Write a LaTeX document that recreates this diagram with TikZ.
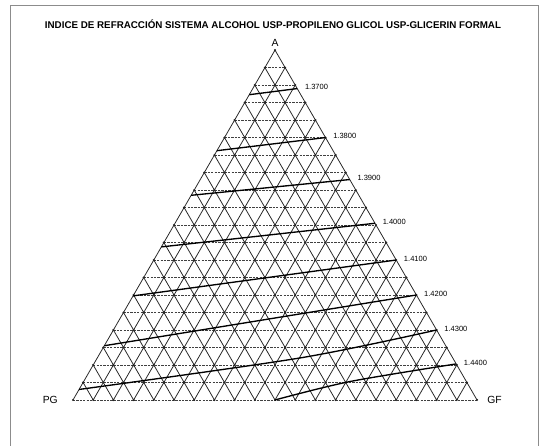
\documentclass[tikz,border=0pt]{standalone}
\usepackage{fontspec}
\setmainfont{Liberation Sans}
\usetikzlibrary{positioning}

\begin{document}
\begin{tikzpicture}[x=0.5cm, y=0.5cm,
    gridline/.style={line width=0.55pt, black!85},
    rowline/.style={line width=0.45pt, black!75, dash pattern=on 1.6pt off 0.8pt},
    isoline/.style={line width=0.95pt},
    isolabel/.style={anchor=west, inner sep=0pt, font=\fontsize{5.3}{6}\selectfont},
    corner/.style={inner sep=0pt, font=\fontsize{7.3}{8}\selectfont}]
  \useasboundingbox (-3.614,-2.277) rectangle (23.366,19.80);
  \draw[black!45, line width=0.5pt] (-3.12,-2.4) -- (-3.12,19.55) -- (23.02,19.55) -- (23.02,-2.4);
  \node[font=\bfseries\fontsize{6.9}{8}\selectfont] (title) at (9.9,18.61)
    {INDICE DE REFRACCIÓN SISTEMA ALCOHOL USP-PROPILENO GLICOL USP-GLICERIN FORMAL};

  \coordinate (pg) at (0,0);
  \coordinate (gf) at (20,0);
  \coordinate (a) at (10,17.32);
  \foreach \k in {1,...,19}{
    \draw[rowline] ({\k/2},{\k*0.866}) -- ({20-\k/2},{\k*0.866});
    \draw[gridline] (\k,0) -- ({(20+\k)/2},{(20-\k)*0.866});
    \draw[gridline] (\k,0) -- ({\k/2},{\k*0.866});
  }
  \draw[rowline] (pg) -- (gf);
  \draw[gridline] (gf) -- (a) -- (pg);
  \foreach \j in {0,...,20}{
    \pgfmathtruncatemacro\last{20-\j}
    \foreach \i in {0,...,\last}{
      \fill[black!85] ({\i+\j/2},{\j*0.866}) circle (0.85pt);
    }
  }

  \node[corner, above=2pt of a] (alabel) {A};
  \node[corner, left=0.37cm of pg] (pglabel) {PG};
  \node[corner, right=0.25cm of gf] (gflabel) {GF};

  \foreach \l/\r/\v [count=\n] in {17.45/17.8/1.3700, 14.25/15.0/1.3800, 11.7/12.6/1.3900,
      8.75/10.1/1.4000, 5.95/8.0/1.4100, 3.1/6.0/1.4200}{
    \draw[isoline] ({\l/2},{\l*0.866}) -- ({20-\r/2},{\r*0.866})
      node[isolabel, xshift=5pt, yshift=1pt] (iso\n) {\v};
  }
  \draw[isoline] plot[smooth] coordinates {(0.3,0.52) (11.24,2.08) (18,3.464)}
    node[isolabel, xshift=5pt, yshift=1pt] (iso7) {1.4300};
  \draw[isoline] plot[smooth] coordinates {(10,0) (13.7,0.91) (18.97,1.784)}
    node[isolabel, xshift=5pt, yshift=1pt] (iso8) {1.4400};
\end{tikzpicture}
\end{document}
